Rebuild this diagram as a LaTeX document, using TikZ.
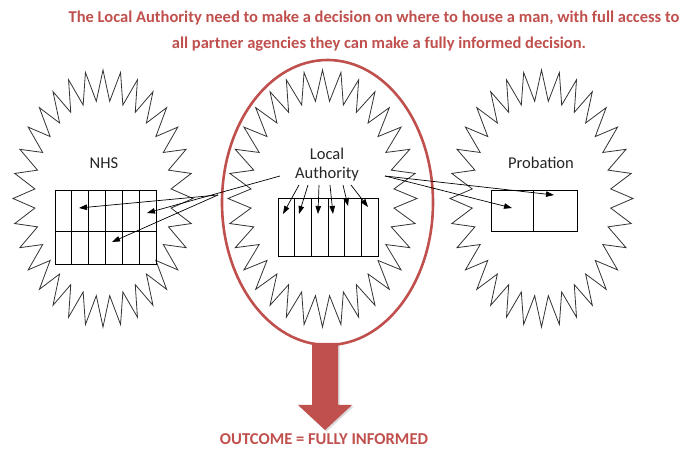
\documentclass[tikz,border=0pt]{standalone}
\usepackage{fontspec}
\setmainfont{Carlito}
\usetikzlibrary{arrows.meta}
\definecolor{accred}{HTML}{C0504D}
\newcommand{\mystarburst}[4]{%
  \draw[starline] plot[variable=\k, samples at={0,...,63}]
    ({#1+(0.88+0.12*cos(180*\k))*#3*cos(-90+5.625*\k)},
     {#2+(0.88+0.12*cos(180*\k))*#4*sin(-90+5.625*\k)}) -- cycle;}
\begin{document}
\begin{tikzpicture}[x=1pt,y=-1pt,
  starline/.style={draw=black!80, line width=0.8pt, line join=miter},
  gridline/.style={draw=black, line width=0.8pt},
  conn/.style={draw=black, line width=0.7pt, -{Triangle[length=8pt,width=5.5pt]}},
  lbl/.style={font=\fontsize{16.5}{19}\selectfont, text=black!85, inner sep=0pt},
  title/.style={font=\bfseries\fontsize{16.5}{19}\selectfont, text=accred, inner sep=0pt}]
\useasboundingbox (0,0) rectangle (689,449);
\fill[white] (0,0) rectangle (689,449);

% title
\node[title] (t1) at (374,18) {The Local Authority need to make a decision on where to house a man, with full access to};
\node[title] (t2) at (379,44) {all partner agencies they can make a fully informed decision.};

% big arrow (shadow then arrow)
\fill[black!15] (313.5,345) -- (339.5,345) -- (339.5,406.5) -- (353.5,406.5) -- (326.5,431.5) -- (299.5,406.5) -- (313.5,406.5) -- cycle;
\fill[accred] (312,343) -- (338,343) -- (338,405) -- (352,405) -- (325,430) -- (298,405) -- (312,405) -- cycle;

% starbursts
\mystarburst{103}{198.5}{90}{128.5}
\mystarburst{322.5}{198.5}{94.5}{128.5}
\mystarburst{541.5}{198.5}{91.5}{128.5}

% red ellipse
\draw[accred, line width=2.6pt] (327.5,202.5) ellipse [x radius=105.5, y radius=142.5];

% labels
\node[lbl] (nhs) at (104,163) {NHS};
\node[lbl] (la1) at (327,154) {Local};
\node[lbl] (la2) at (327,174) {Authority};
\node[lbl] (prob) at (541,163) {Probation};

% grids
\draw[gridline] (55,190) rectangle (156,264);
\draw[gridline] (55,231) -- (156,231);
\foreach \x in {71.8,88.7,105.5,122.3,139.2} \draw[gridline] (\x,190) -- (\x,264);
\draw[gridline] (278,198) rectangle (378,256);
\foreach \x in {294.7,311.3,328,344.7,361.3} \draw[gridline] (\x,198) -- (\x,256);
\draw[gridline] (491,190) rectangle (577,231);
\draw[gridline] (533,190) -- (533,231);

% connector coordinates
\coordinate (sL1) at (280,176);
\coordinate (sL2) at (218,195);
\coordinate (n1) at (79,208);
\coordinate (n2) at (147,213);
\coordinate (n3) at (112,242);
\coordinate (sR) at (385,176);
\coordinate (p1) at (512,208);
\coordinate (p2) at (554,195);
\foreach \i/\sx/\ex/\ey in {1/299/283/214, 2/308/299/214, 3/319/318/214, 4/330/333/214, 5/343/348/206, 6/351/368/207}{
  \coordinate (a\i) at (\sx,185);
  \coordinate (b\i) at (\ex,\ey);
}

% connectors
\draw[conn] (sL2) -- (n1);
\draw[conn] (sL1) -- (n2);
\draw[conn] (sL2) -- (n3);
\draw[conn] (sR) -- (p1);
\draw[conn] (sR) -- (p2);
\foreach \i in {1,...,6} \draw[conn] (a\i) -- (b\i);

% outcome
\node[title, font=\bfseries\fontsize{16.6}{19}\selectfont] (out) at (324,439.5) {OUTCOME = FULLY INFORMED};
\end{tikzpicture}
\end{document}
